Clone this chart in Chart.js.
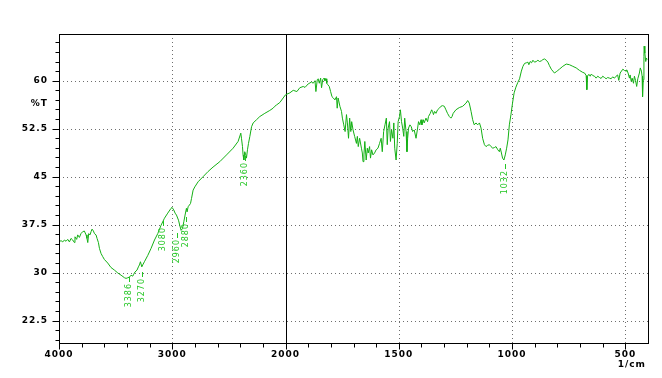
<!DOCTYPE html>
<html><head><meta charset="utf-8">
<script src="https://cdn.jsdelivr.net/npm/chart.js@4/dist/chart.umd.min.js"></script>
<style>html,body{margin:0;padding:0;background:#fff;}#wrap{width:662px;height:378px;}</style>
</head><body><div id="wrap"><canvas id="c" width="662" height="378"></canvas></div>
<script>
// ---- data ----
const wavenumbers = [
4000,3982,3967,3952,3938,3923,3908,3894,3879,3864,3859,3844,3835,3820,3806,3791,3776,3761,3753,3746,
3738,3726,3717,3708,3696,3687,3673,3664,3652,3643,3629,3614,3599,3570,3541,3511,3481,3452,3422,3408,
3393,3378,3364,3349,3340,3329,3311,3299,3290,3281,3269,3261,3246,3216,3187,3157,3128,3099,3069,3040,
3011,3002,2987,2975,2963,2945,2934,2922,2910,2898,2887,2875,2869,2860,
2839,2830,2816,2801,2772,2728,2684,2640,2580,2521,2463,2419,2395,2389,2380,2375,2368,2360,2351,2345,
2336,2327,2315,2300,2286,2256,2227,2183,2139,2110,2095,2080,2050,2021,2000,1981,1966,1950,1937,
1922,1914,1900,1885,1878,1870,1866,1860,1856,1851,1845,1841,1836,1830,1826,1821,1818,1814,1807,1801,
1795,1789,1782,1775,1772,1768,1760,1753,1749,1743,1737,1731,1727,1722,1717,1712,1708,1702,1695,1687,
1683,1679,1673,1665,1661,1658,1654,1650,1644,1639,1635,1629,1625,1620,1614,1607,1600,1592,1585,1578,
1573,1567,1561,1555,1551,1547,1541,1537,1532,1526,1522,1518,1512,1507,1503,1497,1493,1488,1483,1478,
1474,1468,1464,1461,1457,1451,1445,1439,1432,1424,1417,1413,1407,1402,1398,1392,1388,1380,1373,1369,
1361,1355,1351,1347,1342,1336,1329,1321,1314,1307,1299,1292,1285,1277,1270,1265,1260,1248,1233,1218,
1203,1196,1189,1181,1174,1167,1159,1152,1144,1137,1130,1122,1115,1108,1100,1093,1085,1078,1071,1063,
1056,1052,1047,1042,1036,1030,1024,1018,1012,1005,998,991,983,975,967,959,
952,945,937,930,926,920,914,908,901,893,886,879,871,864,857,849,842,835,827,820,
813,805,798,791,776,761,747,732,717,702,688,680,673,670,667,661,655,650,644,636,
629,622,614,607,600,592,585,578,570,563,556,548,541,534,529,523,517,511,504,497,
494,488,482,479,474,470,464,460,455,450,445,438,434,429,426,424,421,418,417,414,410,407,404];
const transmittance = [
34.8,35.0,34.8,35.1,34.9,35.2,34.8,35.35,35.1,34.7,35.6,35.2,35.9,35.5,36.1,36.4,36.5,35.9,35.35,34.7,
36.1,35.9,36.4,36.8,36.5,36.1,35.9,35.35,34.7,33.8,33.0,32.5,32.05,31.5,30.8,30.4,29.95,29.6,29.2,29.1,
29.2,29.3,29.6,29.45,29.75,30.1,30.4,30.9,31.2,31.7,30.9,31.2,31.7,32.7,33.8,35.1,36.1,37.4,38.5,39.3,
40.05,40.2,39.8,39.3,39.0,38.2,37.4,36.6,36.9,37.95,39.0,40.05,39.5,40.3,
40.8,41.6,42.9,43.4,44.2,45.0,45.8,46.5,47.35,48.4,49.45,50.5,51.8,51.0,49.7,48.4,47.6,48.9,48.4,47.9,
49.2,50.2,51.3,52.8,53.4,53.9,54.4,54.9,55.35,55.7,56.0,56.2,56.6,57.3,57.8,58.1,58.5,58.3,58.9,
59.1,58.95,59.5,59.8,59.6,60.0,58.3,60.15,60.3,59.6,60.4,58.9,60.15,60.4,60.0,60.3,59.6,59.4,59.1,58.3,
57.5,57.3,57.0,57.5,55.7,57.3,56.0,55.2,54.15,53.1,52.05,54.7,53.4,51.0,54.15,52.05,53.6,52.3,51.3,50.2,
51.3,49.7,51.0,49.45,48.7,47.35,48.4,50.5,47.6,49.45,48.7,49.7,47.9,49.2,48.4,48.7,49.2,49.45,50.2,51.0,
48.9,52.05,53.1,54.15,50.0,52.6,53.6,50.5,52.3,51.0,53.4,49.45,47.6,50.2,53.6,54.4,55.45,53.6,52.6,51.3,
54.15,52.05,48.9,51.0,52.6,53.1,52.8,52.05,52.3,51.0,52.6,53.6,53.1,53.9,53.1,53.9,53.4,54.15,53.6,54.4,
54.9,55.45,55.2,54.7,55.2,54.9,55.45,55.7,56.0,56.1,56.0,55.45,54.9,54.4,54.15,54.4,54.9,55.45,55.8,56.0,
56.5,56.9,56.5,55.2,53.9,53.1,53.4,53.1,53.4,52.6,51.0,50.0,49.7,49.9,50.0,49.7,49.45,49.55,49.7,49.2,
48.9,49.45,48.7,47.9,47.6,48.4,49.45,50.75,53.1,54.7,56.5,58.1,59.0,59.7,60.3,61.5,
62.25,62.7,62.8,62.9,62.5,63.0,62.8,63.2,62.9,63.0,63.2,63.0,63.1,63.3,63.4,63.2,62.9,62.35,61.8,61.5,
61.2,61.4,61.6,61.8,62.25,62.6,62.5,62.25,62.0,61.6,61.3,61.2,60.8,58.6,60.7,61.0,60.7,61.05,60.8,60.7,
60.4,60.7,60.5,60.35,60.7,60.5,60.3,60.5,60.4,60.3,60.6,60.4,60.7,60.9,60.05,61.2,61.5,61.8,61.6,61.5,
61.7,61.2,60.4,60.9,59.9,60.4,59.6,60.7,60.05,59.1,60.3,61.2,62.0,61.5,60.7,57.5,60.15,63.8,65.4,64.3,63.0,63.55,63.3];
const xTickLabels = [4000, 3000, 2000, 1500, 1000, 500];
const yTickLabels = [60, 52.5, 45, 37.5, 30, 22.5];
const peakWavenumbers = [3386, 3270, 3080, 2960, 2880, 2360, 1032];
const peakTransmittance = [28.35, 29.1, 37.1, 35.2, 37.75, 47.3, 46.05];
const peakLabels = ['3386', '3270', '3080', '2960', '2880', '2360', '1032'];
const xAxisTitle = '1/cm';
const yAxisTitle = '%T';
const xBreak = 2000; // above this wavenumber the axis is compressed 2x

// ---- wavenumber axis with the usual 2x change of scale at 2000 ----
const toU = w => w <= xBreak ? w : xBreak + (w - xBreak) / 2;
const fromU = u => u <= xBreak ? u : xBreak + (u - xBreak) * 2;
class BrokenScale extends Chart.LinearScale {
  configure() {
    super.configure();
    this._startValue = toU(this.min);
    this._endValue = toU(this.max);
    this._valueRange = this._endValue - this._startValue;
  }
  getPixelForValue(v) {
    if (v === null || v === undefined) return NaN;
    return this.getPixelForDecimal((toU(v) - this._startValue) / this._valueRange);
  }
  getValueForPixel(p) {
    return fromU(this._startValue + this.getDecimalForPixel(p) * this._valueRange);
  }
}
BrokenScale.id = 'brokenLinear';
BrokenScale.defaults = Chart.LinearScale.defaults;
Chart.register(BrokenScale);

const LABEL_FONT = 'bold 9px "DejaVu Sans"';
const frame = {
  id: 'frame',
  beforeDraw(chart) { chart.ctx.letterSpacing = '1px'; },
  beforeDatasetsDraw(chart) {
    const {ctx, chartArea: a, scales: {x, y}} = chart;
    ctx.save();
    ctx.lineWidth = 1;
    ctx.strokeStyle = '#6e6e6e';
    ctx.setLineDash([1, 3]);
    for (const v of yTickLabels) {
      const py = Math.round(y.getPixelForValue(v)) + 0.5;
      ctx.beginPath(); ctx.moveTo(a.left, py); ctx.lineTo(a.right, py); ctx.stroke();
    }
    for (const v of xTickLabels) {
      if (v === 4000 || v === xBreak) continue;
      const px = Math.round(x.getPixelForValue(v)) + 0.5;
      ctx.beginPath(); ctx.moveTo(px, a.top); ctx.lineTo(px, a.bottom); ctx.stroke();
    }
    ctx.setLineDash([]);
    ctx.strokeStyle = '#000';
    const bx = Math.round(x.getPixelForValue(xBreak)) + 0.5;
    ctx.beginPath(); ctx.moveTo(bx, a.top); ctx.lineTo(bx, a.bottom); ctx.stroke();
    ctx.restore();
  },
  afterDatasetsDraw(chart) {
    const {ctx, chartArea: a, scales: {x, y}} = chart;
    ctx.save();
    ctx.letterSpacing = '0px';
    ctx.strokeStyle = '#000';
    ctx.lineWidth = 1;
    const L = Math.round(a.left) + 0.5, R = Math.round(a.right) + 0.5;
    const T = Math.round(a.top) + 0.5, B = Math.round(a.bottom) + 0.5;
    ctx.strokeRect(L, T, R - L, B - T);
    // y ticks
    for (let k = 0; ; k++) {
      const v = 19.5 + 1.5 * k;
      if (v > y.max) break;
      const major = Math.abs(((v - 22.5) / 7.5) - Math.round((v - 22.5) / 7.5)) < 1e-6;
      const py = Math.round(y.getPixelForValue(v)) + 0.5;
      ctx.beginPath(); ctx.moveTo(L - (major ? 7 : 4), py); ctx.lineTo(L, py); ctx.stroke();
    }
    // x ticks
    const xt = [];
    for (let w = 4000; w > xBreak; w -= 200) xt.push(w);
    for (let w = xBreak; w >= 500; w -= 100) xt.push(w);
    for (const w of xt) {
      const major = xTickLabels.includes(w);
      const px = Math.round(x.getPixelForValue(w)) + 0.5;
      ctx.beginPath(); ctx.moveTo(px, B); ctx.lineTo(px, B + (major ? 6 : 4)); ctx.stroke();
    }
    // axis titles
    ctx.letterSpacing = '1px';
    ctx.fillStyle = '#000';
    ctx.font = LABEL_FONT;
    ctx.textAlign = 'right';
    ctx.textBaseline = 'middle';
    ctx.fillText(yAxisTitle, a.left - 11, a.top + 70);
    ctx.fillText(xAxisTitle, a.right - 2, a.bottom + 22);
    // peak labels
    ctx.letterSpacing = '1px';
    ctx.font = '8px "DejaVu Sans"';
    ctx.fillStyle = '#22c622';
    ctx.strokeStyle = '#22c622';
    peakWavenumbers.forEach((w, i) => {
      const px = Math.round(x.getPixelForValue(w));
      const py = Math.round(y.getPixelForValue(peakTransmittance[i]));
      ctx.beginPath(); ctx.moveTo(px + 0.5, py - 6); ctx.lineTo(px + 0.5, py - 1); ctx.stroke();
      ctx.save();
      ctx.translate(px, py);
      ctx.rotate(-Math.PI / 2);
      ctx.textAlign = 'right';
      ctx.textBaseline = 'middle';
      ctx.fillText(peakLabels[i], 0, 0);
      ctx.restore();
    });
    ctx.restore();
  }
};

const tickFont = {family: 'DejaVu Sans', size: 9, weight: 'bold'};
new Chart(document.getElementById('c'), {
  type: 'line',
  data: {
    datasets: [{
      data: wavenumbers.map((w, i) => ({x: w, y: transmittance[i]})),
      borderColor: '#14b014',
      borderWidth: 1,
      pointRadius: 0,
      tension: 0,
      fill: false
    }]
  },
  options: {
    responsive: false,
    animation: false,
    devicePixelRatio: 1,
    layout: {padding: {left: 0, right: 14, top: 34, bottom: 0}},
    plugins: {legend: {display: false}, tooltip: {enabled: false}},
    scales: {
      x: {
        type: 'brokenLinear', min: 400, max: 4000, reverse: true, bounds: 'data',
        afterBuildTicks: s => { s.ticks = xTickLabels.map(v => ({value: v})); },
        afterFit: s => { s.height = 35; },
        grid: {display: false, drawTicks: false}, border: {display: false},
        ticks: {autoSkip: false, maxRotation: 0, minRotation: 0, padding: 6, color: '#000', font: tickFont,
                callback: v => String(v)}
      },
      y: {
        type: 'linear', min: 19, max: 67.3, bounds: 'data',
        afterBuildTicks: s => { s.ticks = yTickLabels.map(v => ({value: v})); },
        afterFit: s => { s.width = 59; },
        grid: {display: false, drawTicks: false}, border: {display: false},
        ticks: {padding: 11, color: '#000', font: tickFont, callback: v => String(v)}
      }
    }
  },
  plugins: [frame]
});
</script></body></html>
